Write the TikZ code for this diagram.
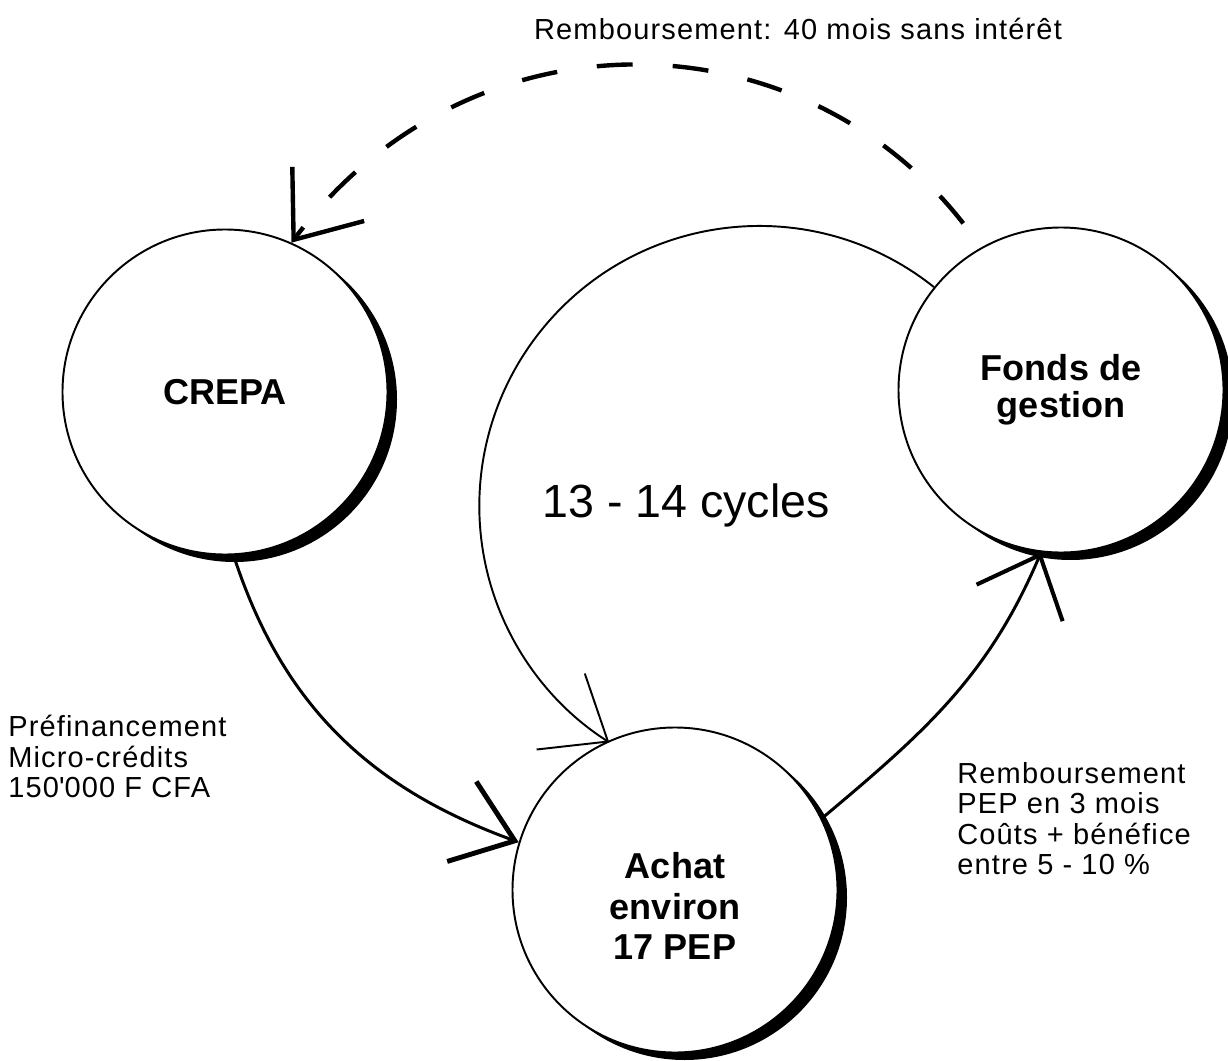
\documentclass[tikz,border=0pt]{standalone}
\usepackage{fontspec}
\setmainfont{Liberation Sans}
\newfontfamily\notefont[LetterSpace=4]{Liberation Sans}
\usetikzlibrary{positioning, arrows.meta, shadows}

\begin{document}
\begin{tikzpicture}[
            station/.style={circle, draw, line width=1.1pt, fill=white, minimum size=6.5cm, inner sep=0pt, align=center,
                font=\fontsize{20.5}{23}\selectfont\bfseries,
                drop shadow={shadow xshift=0.19cm, shadow yshift=-0.15cm, fill=black, opacity=1}},
            flow/.style={line width=1.7pt},
            note/.style={font=\notefont\fontsize{16.5}{17.3}\selectfont, align=left, inner sep=0pt},
        ]
            \useasboundingbox (0,0) rectangle (24.56,-21.22);

            % Draw the three stations
            \node[station] (crepa) at (4.50,-7.84) {CREPA};
            \node[station, font=\fontsize{20.5}{21}\selectfont\bfseries] (fonds) at (21.22,-7.80) {Fonds de\\gestion};
            \node[station, label={[align=center, font=\fontsize{20.5}{23}\selectfont\bfseries, yshift=-0.32cm]center:Achat\\environ\\17 PEP}] (achat) at (13.50,-17.80) {};

            % Draw the labels
            \node[note, anchor=base] (titre) at (15.96,-0.80) {Remboursement: 40 mois sans intérêt};
            \node[note, anchor=north west] (prefin) at (0.16,-14.30) {Préfinancement\\Micro-crédits\\150\textquotesingle 000 F CFA};
            \node[note, anchor=north west] (rembpep) at (19.14,-15.24) {Remboursement\\PEP en 3 mois\\Coûts + bénéfice\\entre 5 - 10 \%};
            \node[font=\fontsize{26.5}{30}\selectfont] (cycles) at (13.72,-10.10) {13 - 14 cycles};

            % Connect the stations
            \draw[flow, -{Straight Barb[length=1.13cm, width=1.7cm, line width=2.8pt]}]
                (crepa.273) to[out=-72, in=160] (achat.163);
            \draw[flow, -{Straight Barb[length=1.04cm, width=1.87cm, line width=2.3pt]}]
                (achat.26) to[out=40, in=247] (fonds.263);
            \draw[line width=1.1pt, -{Straight Barb[length=1.12cm, width=1.8cm, line width=1.1pt]}]
                (fonds.141) arc[start angle=51.4, end angle=237.6, radius=5.6cm];

            % Repayment of the fund, dashed
            \draw[line width=2.5pt, dash pattern=on 0.72cm off 0.8cm, shorten <=0.6cm,
                -{Straight Barb[length=1.15cm, width=1.8cm, line width=2.5pt]}]
                (fonds.119) to[out=128, in=53, looseness=1.1] (crepa.66);
        \end{tikzpicture}
\end{document}
